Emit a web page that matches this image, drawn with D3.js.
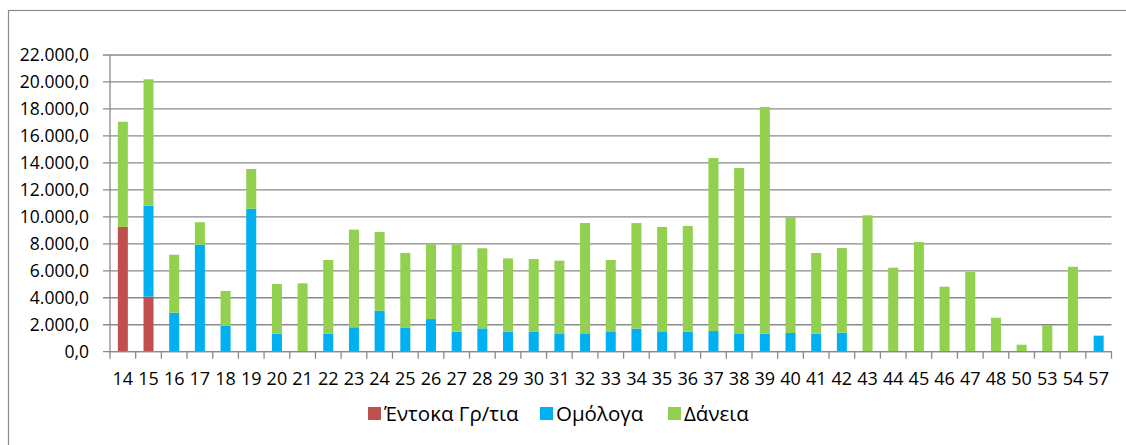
<!DOCTYPE html>
<html><head><meta charset="utf-8">
<script src="https://cdn.jsdelivr.net/npm/d3@7"></script>
<style>
html,body{margin:0;padding:0;background:#fff;}
svg text{font-family:"Open Sans",Lato,"DejaVu Sans",sans-serif;fill:#000;}
</style></head>
<body>
<svg id="chart" width="1126" height="445"></svg>
<script>
const categories = ["14","15","16","17","18","19","20","21","22","23","24","25","26","27","28","29","30","31","32","33","34","35","36","37","38","39","40","41","42","43","44","45","46","47","48","50","53","54","57"];
const entoka = [9250,4080,0,0,0,0,0,0,0,0,0,0,0,0,0,0,0,0,0,0,0,0,0,0,0,0,0,0,0,0,0,0,0,0,0,0,0,0,0];
const omologa = [0,6750,2890,7930,1930,10600,1330,0,1330,1810,3040,1800,2420,1480,1730,1480,1500,1360,1360,1460,1710,1460,1480,1530,1360,1330,1390,1330,1410,0,0,0,0,0,0,0,0,0,1190];
const daneia = [7800,9370,4300,1670,2570,2950,3690,5070,5470,7240,5840,5520,5540,6480,5940,5440,5370,5390,8180,5340,7830,7790,7840,12830,12260,16820,8580,5990,6280,10110,6230,8130,4820,5910,2520,520,1980,6300,0];
const seriesNames = ["Έντοκα Γρ/τια","Ομόλογα","Δάνεια"];
const seriesColors = ["#C0504D","#00B0F0","#92D050"];
const yTicks = [0,2000,4000,6000,8000,10000,12000,14000,16000,18000,20000,22000];

(function(){
const svg = d3.select("#chart");
const pLeft = 110, pRight = 1111.5, pTop = 55, pBottom = 351.7;

// outer chart border
svg.append("rect").attr("x",8.5).attr("y",10.5).attr("width",1200).attr("height",600)
  .attr("fill","none").attr("stroke","#8c8c8c").attr("stroke-width",1.2);

const x = d3.scaleBand().domain(categories).range([pLeft,pRight]).padding(0);
const y = d3.scaleLinear().domain([0,22000]).range([pBottom,pTop]);

const loc = d3.formatLocale({decimal:",",thousands:".",grouping:[3],currency:["","€"]});
const fmt = loc.format(",.1f");

// gridlines
svg.append("g").selectAll("line").data(yTicks).join("line")
  .attr("x1",pLeft-7).attr("x2",pRight).attr("y1",d=>y(d)).attr("y2",d=>y(d))
  .attr("stroke","#8a8a8a").attr("stroke-width",1.3);

// y axis line
svg.append("line").attr("x1",pLeft).attr("x2",pLeft).attr("y1",pTop).attr("y2",pBottom)
  .attr("stroke","#8a8a8a").attr("stroke-width",1.3);

// y labels
svg.append("g").selectAll("text").data(yTicks).join("text")
  .attr("x",89).attr("y",d=>y(d)).attr("dy","0.36em").attr("text-anchor","end")
  .style("font-size","17.5px").text(d=>fmt(d));

// stacked bars
const stackData = categories.map((c,i)=>({cat:c, e:entoka[i], o:omologa[i], d:daneia[i]}));
const stack = d3.stack().keys(["e","o","d"])(stackData);
const bw = x.bandwidth()*0.39;
svg.append("g").selectAll("g").data(stack).join("g")
  .attr("fill",(d,i)=>seriesColors[i])
  .selectAll("rect").data(d=>d.filter(v=>v[1]-v[0]>0)).join("rect")
  .attr("x",d=>x(d.data.cat)+x.bandwidth()/2-bw/2)
  .attr("width",bw)
  .attr("y",d=>y(d[1]))
  .attr("height",d=>y(d[0])-y(d[1]));

// x axis line and ticks
svg.append("line").attr("x1",pLeft).attr("x2",pRight).attr("y1",pBottom).attr("y2",pBottom)
  .attr("stroke","#8a8a8a").attr("stroke-width",1.3);
const bounds = categories.map(c=>x(c)).concat([pRight]);
svg.append("g").selectAll("line").data(bounds).join("line")
  .attr("x1",d=>d).attr("x2",d=>d).attr("y1",pBottom).attr("y2",pBottom+7)
  .attr("stroke","#8a8a8a").attr("stroke-width",1.3);

// x labels
svg.append("g").selectAll("text").data(categories).join("text")
  .attr("x",d=>x(d)+x.bandwidth()/2).attr("y",385).attr("text-anchor","middle")
  .style("font-size","18px").text(d=>d);

// legend
const legX = [368,540,668];
const lg = svg.append("g").selectAll("g").data(seriesNames).join("g")
  .attr("transform",(d,i)=>`translate(${legX[i]},0)`);
lg.append("rect").attr("x",0).attr("y",407).attr("width",13).attr("height",13)
  .attr("fill",(d,i)=>seriesColors[i]);
lg.append("text").attr("x",16).attr("y",420.5).style("font-size","20.5px").text(d=>d);
})();
</script>
</body></html>
